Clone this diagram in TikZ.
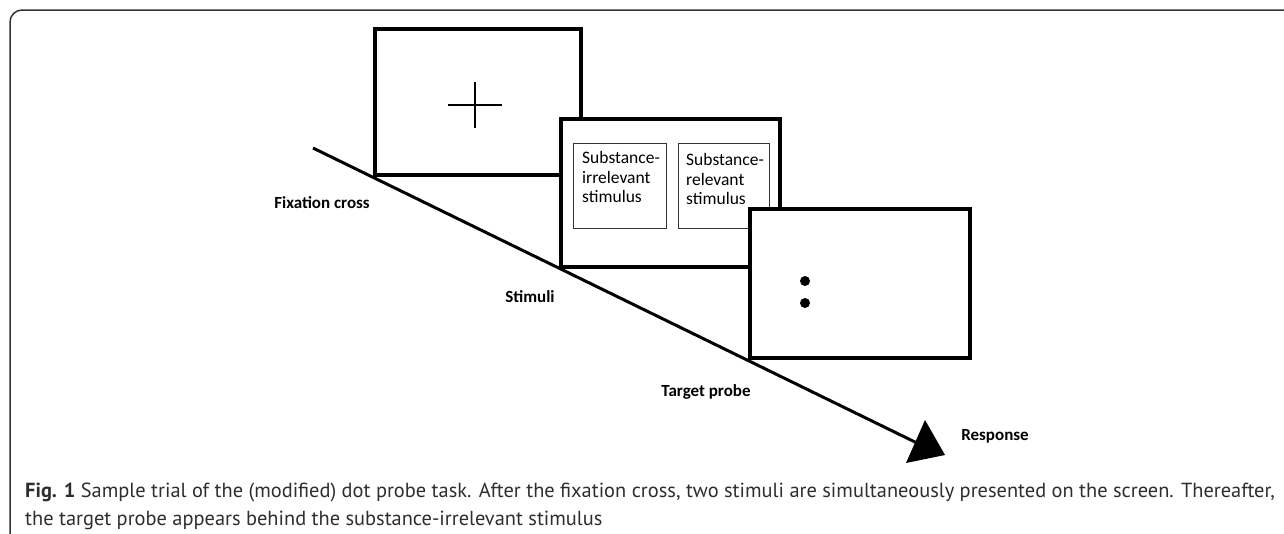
\documentclass[tikz,border=0pt]{standalone}
\usepackage{fontspec}
\setmainfont{PT Sans}
\newfontfamily\calfont{Carlito}
\begin{document}
\begin{tikzpicture}[x=1pt,y=-1pt,
  screen/.style={draw=black, fill=white, line width=3.3pt, inner sep=0pt},
  stimbox/.style={draw=black!80, fill=white, line width=1pt, inner sep=0pt},
  stimtext/.style={font=\calfont\fontsize{17.5}{19.7}\selectfont, align=left, inner sep=0pt, anchor=north west},
  lab/.style={font=\calfont\bfseries\fontsize{17}{20}\selectfont, inner sep=0pt},
  captext/.style={font=\fontsize{20.4}{24}\selectfont, text=black!82, inner sep=0pt, anchor=base west}]
\useasboundingbox (0,0) rectangle (1284,533);
\fill[white] (0,0) rectangle (1284,533);
% frame
\draw[black!80, line width=1.5pt, rounded corners=12pt] (1300,10) -- (10,10) -- (10,545);
% timeline
\coordinate (t0) at (313,148);
\coordinate (t1) at (917,443);
\draw[line width=3pt] (t0) -- (t1);
\coordinate (h1) at (925,420);
\coordinate (h2) at (906,463);
\coordinate (h3) at (945,455);
\fill (h1) -- (h2) -- (h3) -- cycle;
% screens
\node[screen, minimum width=206pt, minimum height=146pt] (fix) at (478,102) {};
\draw[line width=2.8pt] (448,105) -- (502,105);
\draw[line width=2.8pt] (475,82) -- (475,128);
\node[screen, minimum width=219pt, minimum height=148pt] (stim) at (670.5,193) {};
\node[stimbox, minimum width=93pt, minimum height=85pt] (irr) at (619.5,185.5) {};
\node[stimbox, minimum width=91pt, minimum height=85pt] (rel) at (723.5,185.5) {};
\node[stimtext] (irrt) at (582,151) {Substance-\\irrelevant\\stimulus};
\node[stimtext] (relt) at (686,153) {Substance-\\relevant\\stimulus};
\node[screen, minimum width=220pt, minimum height=149pt] (probe) at (860,283.5) {};
\fill (805,281) circle (5pt);
\fill (805,303) circle (5pt);
% labels
\node[lab] (lfix) at (322,203) {Fixation cross};
\node[lab] (lstim) at (530,297) {Stimuli};
\node[lab] (lprobe) at (706,392) {Target probe};
\node[lab] (lresp) at (995,436) {Response};
% caption
\node[captext] (c1) at (25,497) {\textbf{Fig. 1} Sample trial of the (modified) dot probe task. After the fixation cross, two stimuli are simultaneously presented on the screen. Thereafter,};
\node[captext] (c2) at (25,525) {the target probe appears behind the substance-irrelevant stimulus};
\end{tikzpicture}
\end{document}
